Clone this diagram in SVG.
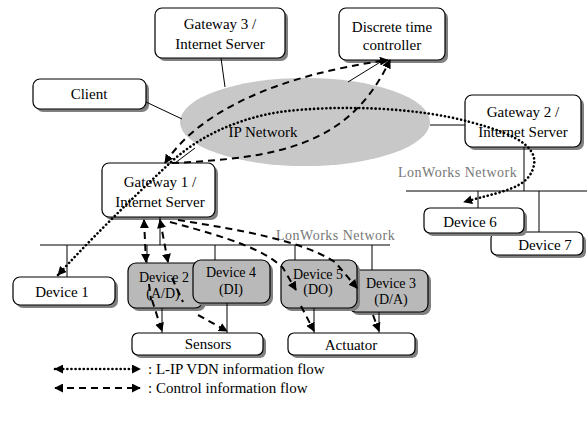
<svg xmlns="http://www.w3.org/2000/svg" width="587" height="423" viewBox="0 0 587 423">
<defs>
<style>
.box{fill:#fff;stroke:#000;stroke-width:1.2}
.sbox{fill:#b9b9b9;stroke:#000;stroke-width:1.2}
.sh{fill:#808080}
.t{font-family:"Liberation Serif","Times New Roman",serif;font-size:15px;fill:#000;text-anchor:middle}
.ts{font-family:"Liberation Serif","Times New Roman",serif;font-size:14px;fill:#000;text-anchor:middle}
.lw{font-family:"Liberation Serif","Times New Roman",serif;font-size:14px;fill:#777;letter-spacing:0.5px}
.lg{font-family:"Liberation Serif","Times New Roman",serif;font-size:15px;fill:#000}
.ln{fill:none;stroke:#000;stroke-width:1}
.dot{fill:none;stroke:#000;stroke-width:2.6;stroke-dasharray:0.1 4;stroke-linecap:round}
.dash{fill:none;stroke:#000;stroke-width:2;stroke-dasharray:7 5}
</style>
<marker id="ah" viewBox="0 0 10 10" refX="9" refY="5" markerWidth="9" markerHeight="9" markerUnits="userSpaceOnUse" orient="auto-start-reverse">
<path d="M0,0 L10,5 L0,10 z" fill="#000"/>
</marker>
</defs>
<rect width="587" height="423" fill="#fff"/>

<g id="ip-network">
<ellipse cx="305" cy="122" rx="125" ry="44" fill="#c8c8c8"/>
<text class="t" x="263" y="137">IP Network</text>
</g>

<g id="gateway3">
<rect class="sh" x="158" y="11" width="130" height="50" rx="7"/>
<rect class="box" x="155" y="8" width="130" height="50" rx="7"/>
<text class="t" x="220" y="29">Gateway 3 /</text>
<text class="t" x="220" y="49">Internet Server</text>
</g>

<g id="client">
<rect class="sh" x="36" y="82" width="113" height="30" rx="7"/>
<rect class="box" x="33" y="79" width="113" height="30" rx="7"/>
<text class="t" x="89" y="99">Client</text>
</g>

<g id="controller">
<rect class="sh" x="342" y="11" width="106" height="52" rx="7"/>
<rect class="box" x="339" y="8" width="106" height="52" rx="7"/>
<text class="t" x="392" y="32">Discrete time</text>
<text class="t" x="392" y="50">controller</text>
</g>

<g id="gateway2">
<rect class="sh" x="468" y="98" width="116" height="52" rx="7"/>
<rect class="box" x="465" y="95" width="116" height="52" rx="7"/>
<text class="t" x="523" y="117">Gateway 2 /</text>
<text class="t" x="523" y="137">Internet Server</text>
</g>

<g id="gateway1">
<rect class="sh" x="105" y="166" width="113" height="54" rx="7"/>
<rect class="box" x="102" y="163" width="113" height="54" rx="7"/>
<text class="t" x="160" y="187">Gateway 1 /</text>
<text class="t" x="160" y="207">Internet Server</text>
</g>

<g id="labels">
<text class="lw" x="276" y="240">LonWorks Network</text>
<text class="lw" x="398" y="177">LonWorks Network</text>
</g>

<g id="device1">
<rect class="sh" x="16" y="280" width="102" height="28" rx="7"/>
<rect class="box" x="13" y="277" width="102" height="28" rx="7"/>
<text class="t" x="62" y="297">Device 1</text>
</g>

<g id="device7">
<rect class="sh" x="494" y="235" width="92" height="23" rx="6"/>
<rect class="box" x="491" y="232" width="92" height="23" rx="6"/>
<text class="t" x="545" y="250">Device 7</text>
</g>

<g id="device6">
<rect class="sh" x="427" y="211" width="100" height="25" rx="6"/>
<rect class="box" x="424" y="208" width="100" height="25" rx="6"/>
<text class="t" x="470" y="227">Device 6</text>
</g>

<g id="device2">
<rect class="sh" x="131" y="266" width="75" height="45" rx="8"/>
<rect class="sbox" x="128" y="263" width="75" height="45" rx="8"/>
<text class="ts" x="164" y="282">Device 2</text>
<text class="ts" x="163" y="298">(A/D)</text>
</g>

<g id="device4">
<rect class="sh" x="196" y="263" width="77" height="43" rx="8"/>
<rect class="sbox" x="193" y="260" width="77" height="43" rx="8"/>
<text class="ts" x="231" y="277">Device 4</text>
<text class="ts" x="231" y="294">(DI)</text>
</g>

<g id="device3">
<rect class="sh" x="351" y="273" width="80" height="42" rx="8"/>
<rect class="sbox" x="348" y="270" width="80" height="42" rx="8"/>
<text class="ts" x="391" y="288">Device 3</text>
<text class="ts" x="391" y="304">(D/A)</text>
</g>

<g id="device5">
<rect class="sh" x="284" y="263" width="76" height="48" rx="8"/>
<rect class="sbox" x="281" y="260" width="76" height="48" rx="8"/>
<text class="ts" x="318" y="279">Device 5</text>
<text class="ts" x="318" y="294">(DO)</text>
</g>

<g id="sensors">
<rect class="sh" x="135" y="336" width="131" height="22" rx="6"/>
<rect class="box" x="132" y="333" width="131" height="22" rx="6"/>
<text class="t" x="208" y="349">Sensors</text>
</g>

<g id="actuator">
<rect class="sh" x="291" y="336" width="127" height="22" rx="6"/>
<rect class="box" x="288" y="333" width="127" height="22" rx="6"/>
<text class="t" x="351" y="350">Actuator</text>
</g>

<g id="connectors">
<line class="ln" x1="221" y1="58" x2="225" y2="87"/>
<line class="ln" x1="146" y1="102" x2="182" y2="119"/>
<line class="ln" x1="382" y1="61" x2="348" y2="82"/>
<line class="ln" x1="430" y1="125" x2="465" y2="125"/>
<line class="ln" x1="175" y1="163" x2="195" y2="148"/>
<line class="ln" x1="160" y1="217" x2="160" y2="245"/>
<line class="ln" x1="40" y1="245" x2="390" y2="245"/>
<line class="ln" x1="67" y1="245" x2="67" y2="277"/>
<line class="ln" x1="147" y1="245" x2="147" y2="263"/>
<line class="ln" x1="215" y1="245" x2="215" y2="260"/>
<line class="ln" x1="295" y1="245" x2="295" y2="260"/>
<line class="ln" x1="372" y1="245" x2="372" y2="270"/>
<line class="ln" x1="524" y1="147" x2="524" y2="191"/>
<line class="ln" x1="406" y1="191" x2="587" y2="191"/>
<line class="ln" x1="478" y1="191" x2="478" y2="208"/>
<line class="ln" x1="539" y1="191" x2="539" y2="232"/>
<line class="ln" x1="162" y1="308" x2="162" y2="333"/>
<line class="ln" x1="227" y1="303" x2="227" y2="333"/>
<line class="ln" x1="314" y1="308" x2="314" y2="333"/>
<line class="ln" x1="379" y1="312" x2="379" y2="333"/>

<path class="dot" d="M58,275 C85,245 130,200 170,163 C200,135 240,118 280,112 C340,104 420,108 470,122 C520,135 545,150 530,175 C520,190 495,193 464,202" marker-start="url(#ah)" marker-end="url(#ah)"/>

<path class="dash" d="M165,163 C200,110 280,75 388,60" marker-start="url(#ah)" marker-end="url(#ah)"/>
<path class="dash" d="M172,163 C280,158 350,145 390,60" marker-end="url(#ah)"/>

<path class="dash" d="M144,220 L146,262" marker-start="url(#ah)" marker-end="url(#ah)"/>
<path class="dash" d="M160,220 L168,262" marker-start="url(#ah)" marker-end="url(#ah)"/>
<path class="dash" d="M149,284 L151,300"/>
<path class="dash" d="M172,278 L183,302"/>
<path class="dash" d="M152,300 L162,331" marker-end="url(#ah)"/>
<path class="dash" d="M198,315 L227,331" marker-end="url(#ah)"/>
<path class="dash" d="M170,222 C230,238 265,250 283,268 L296,290" marker-end="url(#ah)"/>
<path class="dash" d="M178,220 C240,230 300,240 335,262 L357,288" marker-end="url(#ah)"/>
<path class="dash" d="M301,306 L314,331" marker-end="url(#ah)"/>
<path class="dash" d="M373,315 L379,331" marker-end="url(#ah)"/>
</g>

<g id="legend">
<line class="dot" x1="55" y1="369" x2="140" y2="369" marker-start="url(#ah)" marker-end="url(#ah)"/>
<text class="lg" x="148" y="374">: L-IP VDN information flow</text>
<line class="dash" x1="55" y1="388" x2="140" y2="388" marker-start="url(#ah)" marker-end="url(#ah)"/>
<text class="lg" x="148" y="393">: Control information flow</text>
</g>
</svg>
